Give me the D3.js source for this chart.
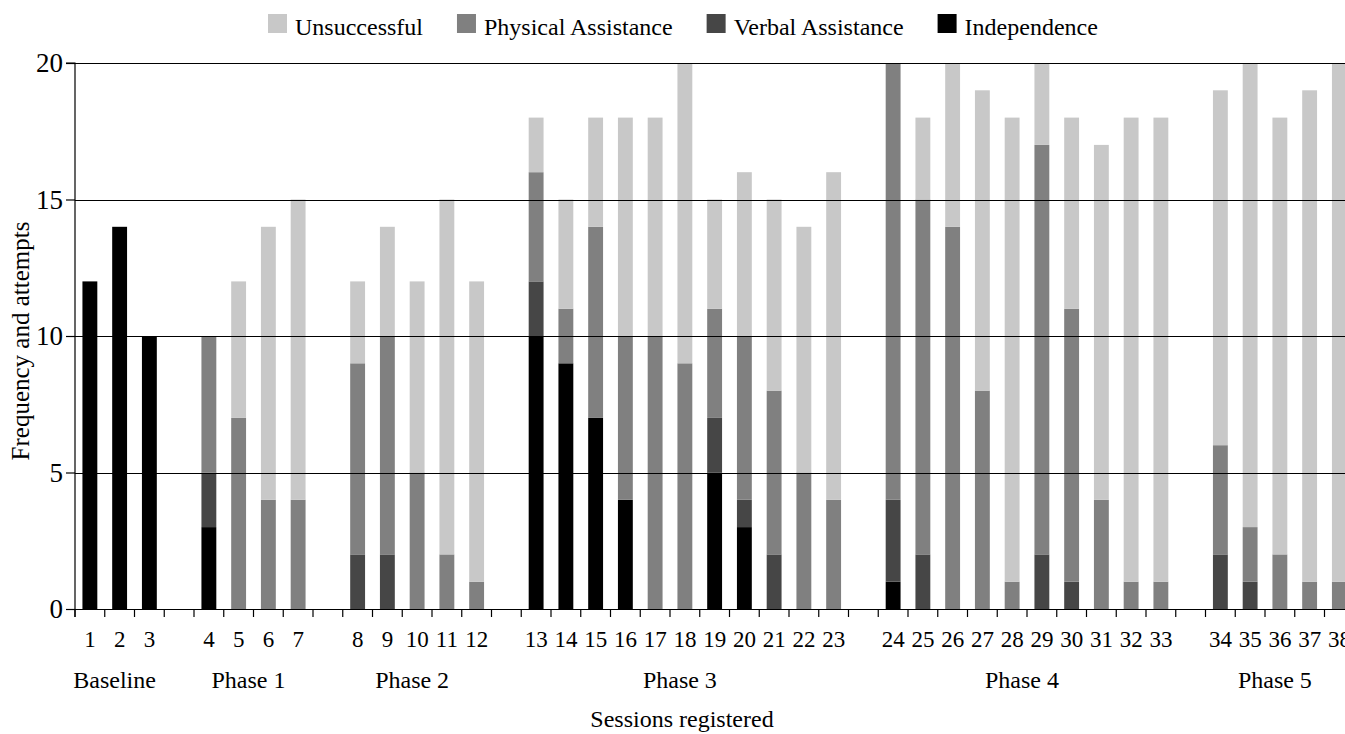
<!DOCTYPE html>
<html>
<head>
<meta charset="utf-8">
<script src="https://cdn.jsdelivr.net/npm/d3@7"></script>
<style>
  html, body { margin: 0; padding: 0; background: #fff; }
  svg { display: block; font-family: "Liberation Serif", "Times New Roman", serif; }
  svg text { font-family: "Liberation Serif", "Times New Roman", serif; }
</style>
</head>
<body>
<svg id="chart" width="1345" height="734"></svg>
<script>
// ---- Data ----
const phases = ["Baseline", "Phase 1", "Phase 2", "Phase 3", "Phase 4", "Phase 5"];
const phaseSessions = [
  [1, 2, 3],
  [4, 5, 6, 7],
  [8, 9, 10, 11, 12],
  [13, 14, 15, 16, 17, 18, 19, 20, 21, 22, 23],
  [24, 25, 26, 27, 28, 29, 30, 31, 32, 33],
  [34, 35, 36, 37, 38]
];
const seriesNames = ["Independence", "Verbal Assistance", "Physical Assistance", "Unsuccessful"];
const seriesColors = ["#000000", "#464646", "#808080", "#c8c8c8"];
const legendOrder = ["Unsuccessful", "Physical Assistance", "Verbal Assistance", "Independence"];

const independence = [12,14,10, 3,0,0,0, 0,0,0,0,0, 10,9,7,4,0,0,5,3,0,0,0, 1,0,0,0,0,0,0,0,0,0, 0,0,0,0,0];
const verbal       = [0,0,0, 2,0,0,0, 2,2,0,0,0, 2,0,0,0,0,0,2,1,2,0,0, 3,2,0,0,0,2,1,0,0,0, 2,1,0,0,0];
const physical     = [0,0,0, 5,7,4,4, 7,8,5,2,1, 4,2,7,6,10,9,4,6,6,5,4, 16,13,14,8,1,15,10,4,1,1, 4,2,2,1,1];
const unsuccessful = [0,0,0, 0,5,10,11, 3,4,7,13,11, 2,4,4,8,8,11,4,6,7,9,12, 0,3,6,11,17,3,7,13,17,17, 13,17,16,18,19];
const yTicks = [0, 5, 10, 15, 20];

// ---- Build slot list (a blank slot separates phases) ----
const slots = [];
phaseSessions.forEach((grp, gi) => {
  if (gi > 0) slots.push("gap" + gi);
  grp.forEach(s => slots.push("s" + s));
});
const rows = d3.range(38).map(i => ({
  key: "s" + (i + 1),
  "Independence": independence[i],
  "Verbal Assistance": verbal[i],
  "Physical Assistance": physical[i],
  "Unsuccessful": unsuccessful[i]
}));

// ---- Layout ----
const FONT = "'Liberation Serif', 'Times New Roman', serif";
const svg = d3.select("#chart");
const plotLeft = 75, plotTop = 63, plotBottom = 609;
const slotW = 29.75;
const plotRight = plotLeft + slots.length * slotW;

const x = d3.scaleBand().domain(slots).range([plotLeft, plotRight]).paddingInner(0).paddingOuter(0);
const y = d3.scaleLinear().domain([0, 20]).range([plotBottom, plotTop]);
const color = d3.scaleOrdinal().domain(seriesNames).range(seriesColors);

const stacked = d3.stack().keys(seriesNames)(rows);

// bars
const barW = x.bandwidth() * 0.5;
svg.append("g").selectAll("g")
  .data(stacked).join("g")
  .attr("fill", d => color(d.key))
  .selectAll("rect")
  .data(d => d.filter(p => p[1] > p[0]))
  .join("rect")
  .attr("x", d => x(d.data.key) + (x.bandwidth() - barW) / 2)
  .attr("width", barW)
  .attr("y", d => y(d[1]))
  .attr("height", d => y(d[0]) - y(d[1]));

// gridlines (drawn over bars as in the reference)
svg.append("g").selectAll("line")
  .data(yTicks.filter(t => t > 0)).join("line")
  .attr("x1", plotLeft).attr("x2", plotRight)
  .attr("y1", d => Math.round(y(d)) + 0.5).attr("y2", d => Math.round(y(d)) + 0.5)
  .attr("stroke", "#000").attr("stroke-width", 1.1);

// y axis
const yAxis = d3.axisLeft(y).tickValues(yTicks).tickSize(9).tickPadding(3);
const gy = svg.append("g").attr("transform", `translate(${plotLeft},0)`).call(yAxis)
  .attr("font-family", FONT).attr("font-size", 27);
gy.select(".domain").attr("stroke", "#000").attr("stroke-width", 1.2)
  .attr("d", `M-9,${y(20)}H0V${plotBottom + 8}`);
gy.selectAll(".tick line").attr("stroke", "#000").attr("stroke-width", 1.2);
gy.selectAll(".tick text").attr("fill", "#000");

// x axis baseline and tick marks at slot boundaries
const gx = svg.append("g").attr("font-family", FONT);
gx.append("line").attr("x1", plotLeft).attr("x2", plotRight)
  .attr("y1", plotBottom + 0.5).attr("y2", plotBottom + 0.5)
  .attr("stroke", "#000").attr("stroke-width", 1.2);
gx.selectAll("line.tk").data(slots.concat(["__end"])).join("line")
  .attr("class", "tk")
  .attr("x1", (d, i) => plotLeft + i * x.step()).attr("x2", (d, i) => plotLeft + i * x.step())
  .attr("y1", plotBottom).attr("y2", plotBottom + 8)
  .attr("stroke", "#000").attr("stroke-width", 1.2);

// session labels
gx.selectAll("text.sess").data(slots.filter(s => s[0] === "s")).join("text")
  .attr("class", "sess")
  .attr("x", d => x(d) + x.bandwidth() / 2)
  .attr("y", 647)
  .attr("text-anchor", "middle")
  .attr("font-size", 23)
  .attr("fill", "#000")
  .text(d => d.slice(1));

// phase labels
gx.selectAll("text.phase").data(phases).join("text")
  .attr("class", "phase")
  .attr("x", (d, i) => {
    const g = phaseSessions[i];
    const a = x("s" + g[0]) + x.bandwidth() / 2;
    const b = x("s" + g[g.length - 1]) + x.bandwidth() / 2;
    return (a + b) / 2 - 5;
  })
  .attr("y", 688)
  .attr("text-anchor", "middle")
  .attr("font-size", 24)
  .attr("fill", "#000")
  .text(d => d);

// axis titles
svg.append("text")
  .attr("x", 682).attr("y", 727)
  .attr("text-anchor", "middle").attr("font-size", 24).attr("fill", "#000")
  .text("Sessions registered");
svg.append("text")
  .attr("transform", "translate(29,341) rotate(-90)")
  .attr("text-anchor", "middle").attr("font-size", 25).attr("fill", "#000")
  .text("Frequency and attempts");

// legend
const lg = svg.append("g");
let lx = 268;
legendOrder.forEach(name => {
  lg.append("rect").attr("x", lx).attr("y", 14).attr("width", 19).attr("height", 19)
    .attr("fill", color(name));
  const t = lg.append("text").attr("x", lx + 27).attr("y", 35)
    .attr("font-size", 24).attr("fill", "#000").text(name);
  lx = lx + 27 + t.node().getComputedTextLength() + 34;
});
</script>
</body>
</html>
